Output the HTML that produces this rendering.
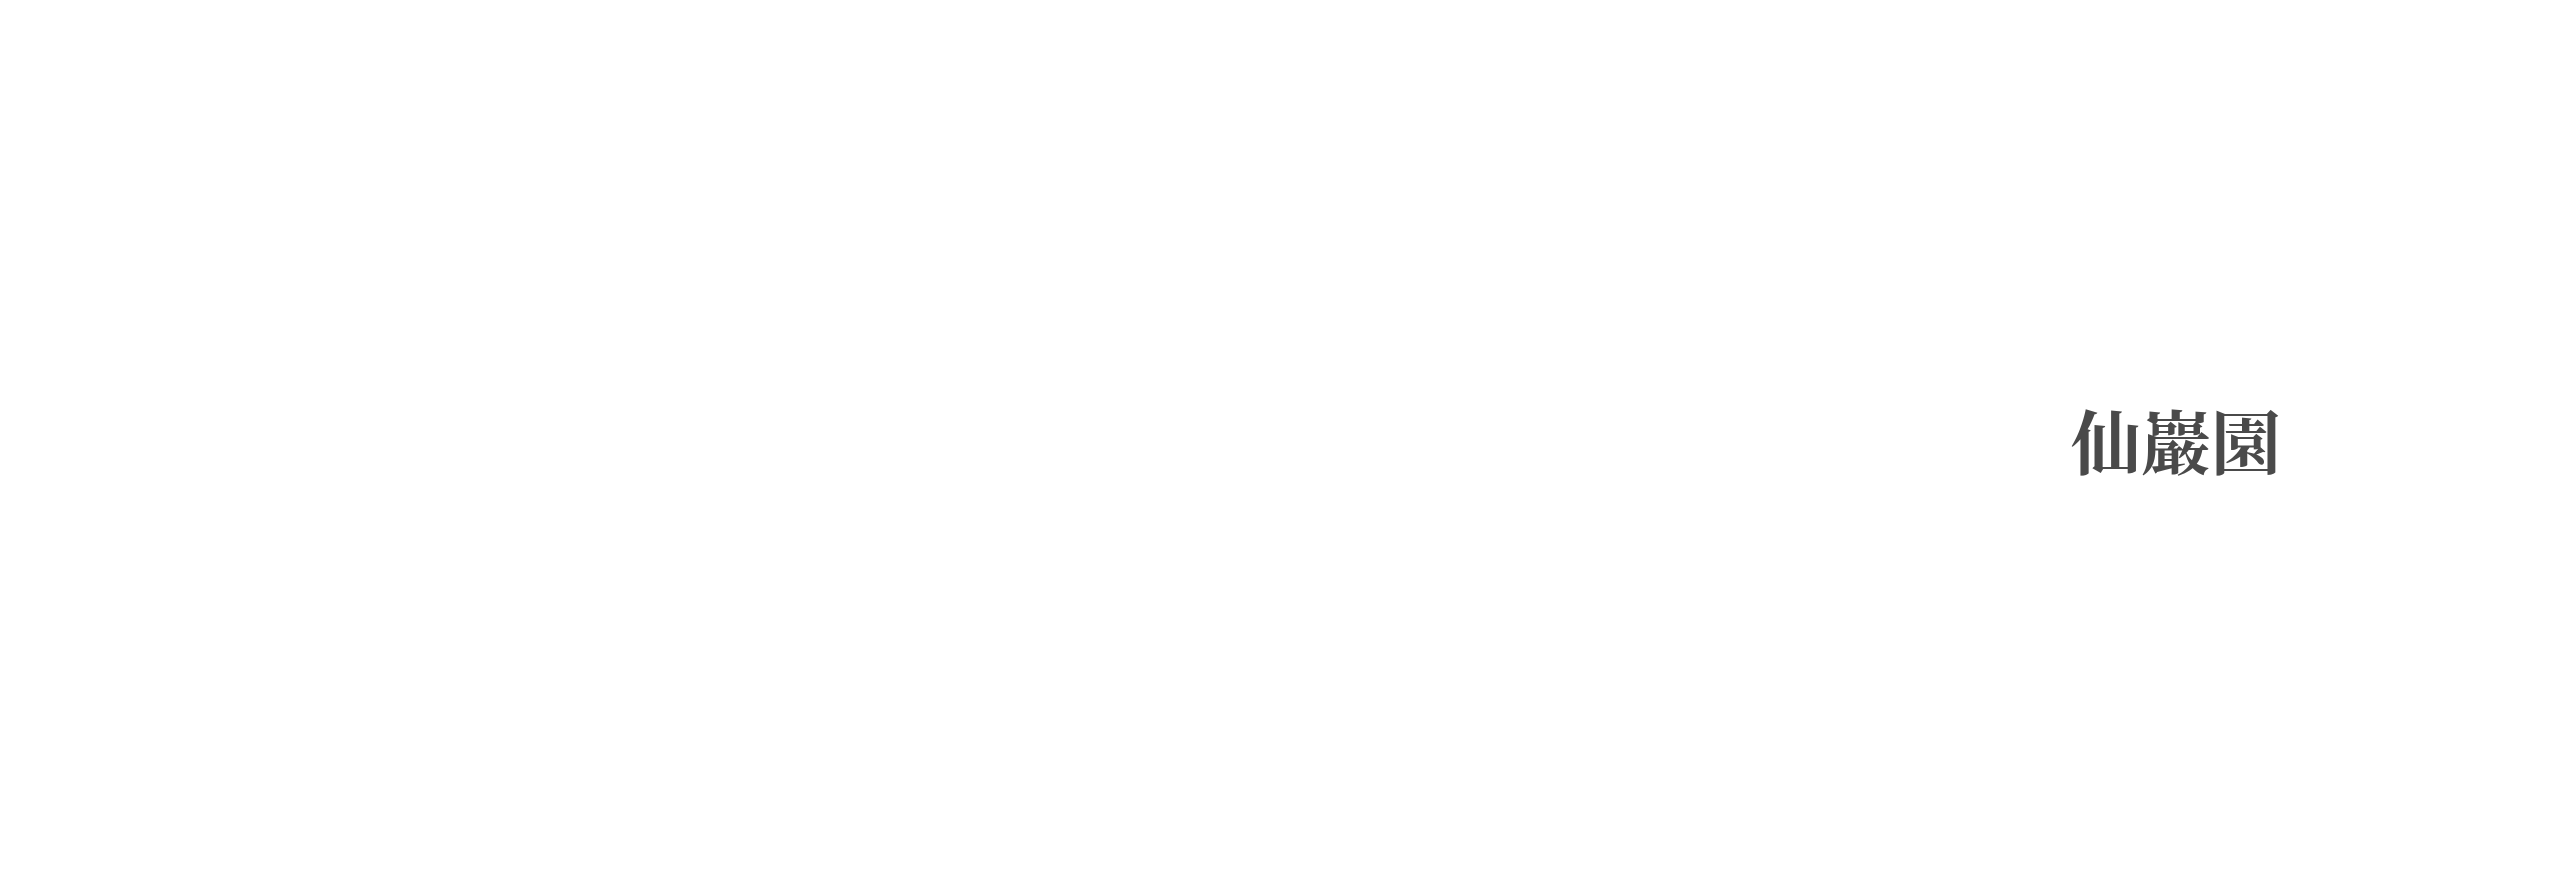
<!DOCTYPE html>
<html><head><meta charset="utf-8"><style>
html,body{margin:0;padding:0;background:#fff;width:2560px;height:883px;overflow:hidden}
.t{position:absolute;left:2071px;top:412px;font-family:"Liberation Serif","Noto Serif CJK SC",serif;font-weight:bold;font-size:70px;line-height:1;color:#4a4a4a;white-space:nowrap}
</style></head><body>
<div class="t">仙巖園</div>
</body></html>
